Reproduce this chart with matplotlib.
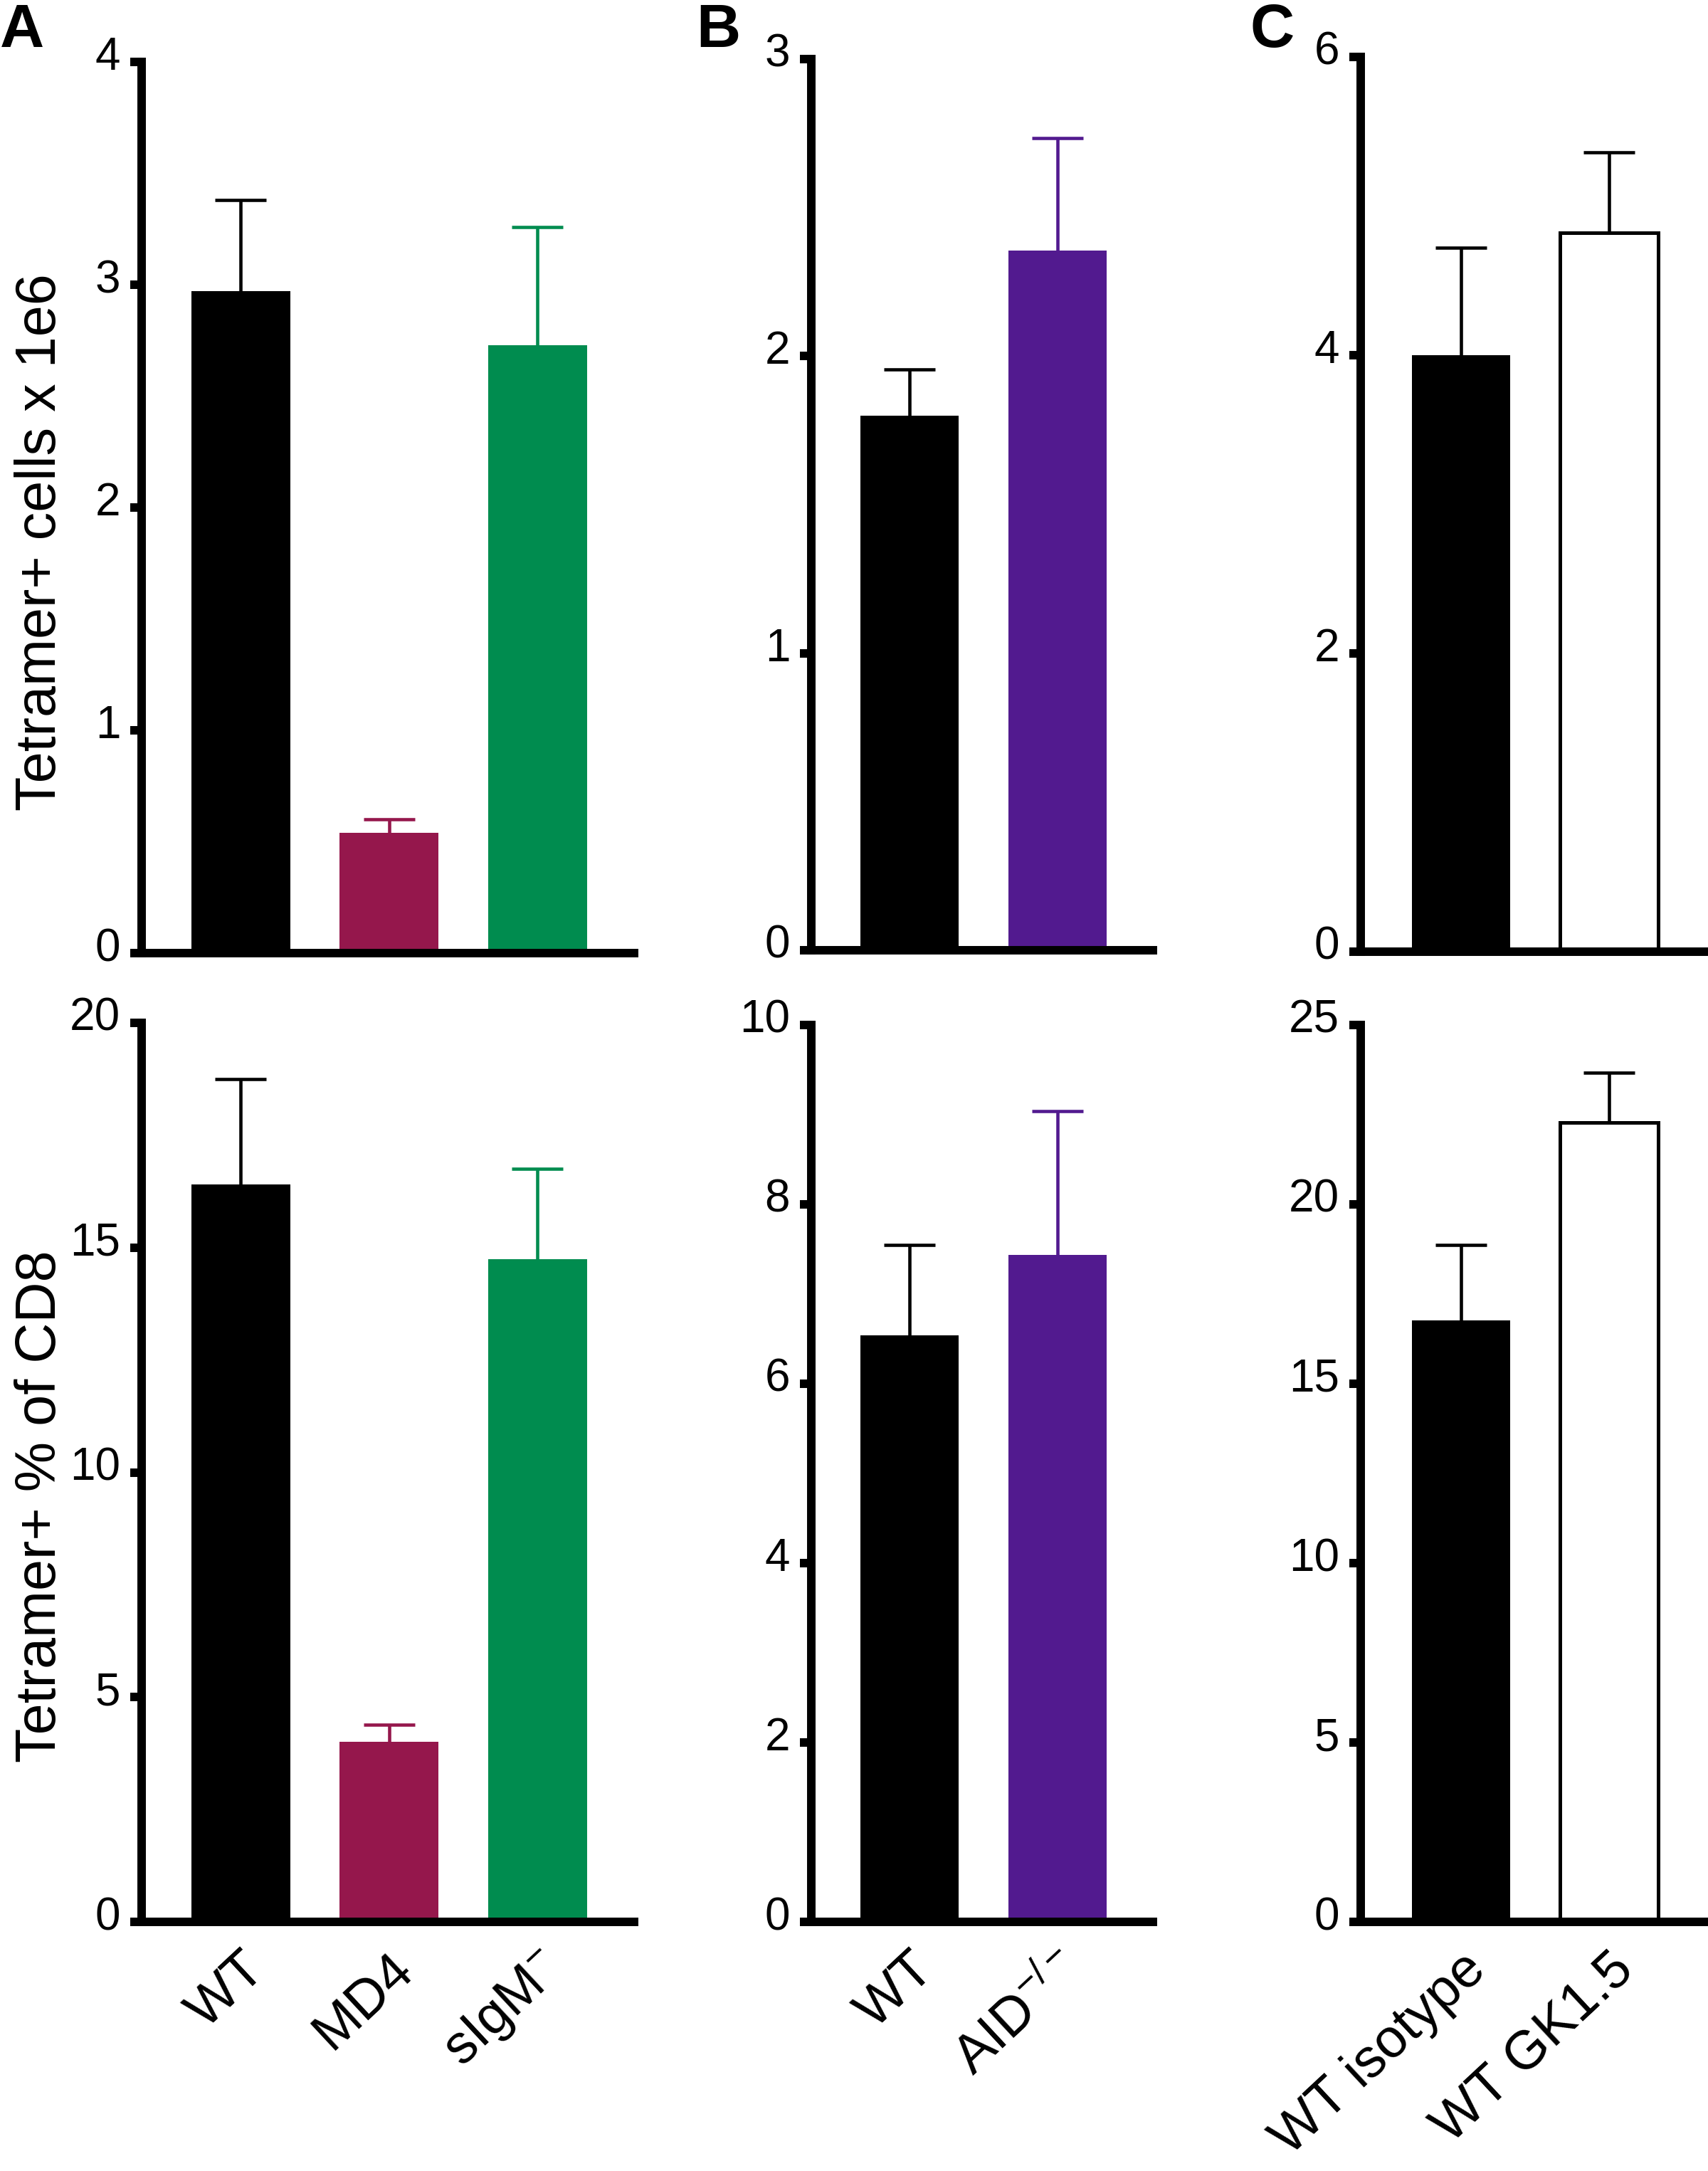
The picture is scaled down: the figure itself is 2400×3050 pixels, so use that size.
import numpy as np
import matplotlib
matplotlib.use("Agg")
import matplotlib.pyplot as plt
from matplotlib.transforms import ScaledTranslation

plt.rcParams['font.family'] = ['Liberation Sans', 'DejaVu Sans']
plt.rcParams['mathtext.fontset'] = 'custom'
plt.rcParams['mathtext.rm'] = 'Liberation Sans'
plt.rcParams['mathtext.it'] = 'Liberation Sans'

# ---- data ----
a_groups = ['WT', 'MD4', r'sIgM$^{-}$']
a_colors = ['#000000', '#95174C', '#008C4F']
a_count = [2.97, 0.54, 2.73]
a_count_err = [0.41, 0.06, 0.53]
a_pct = [16.4, 4.0, 14.75]
a_pct_err = [2.35, 0.38, 2.0]

b_groups = ['WT', r'AID$^{-/-}$']
b_colors = ['#000000', '#521A8F']
b_count = [1.80, 2.355]
b_count_err = [0.155, 0.38]
b_pct = [6.54, 7.44]
b_pct_err = [1.01, 1.6]

c_groups = ['WT isotype', 'WT GK1.5']
c_colors = ['#000000', '#FFFFFF']
c_count = [4.0, 4.82]
c_count_err = [0.72, 0.54]
c_pct = [16.77, 22.28]
c_pct_err = [2.1, 1.4]

W, H = 2400, 3050
fig = plt.figure(figsize=(W / 100, H / 100), dpi=100)

SPINE = 8.6
up = ScaledTranslation(0, 9 / 72, fig.dpi_scale_trans)


def px_axes(left, right, top, bottom):
    return fig.add_axes([left / W, 1 - bottom / H, (right - left) / W, (bottom - top) / H])


def bar_panel(ax, vals, errs, colors, ymax, yticks, xlim, labels=None):
    x = np.arange(len(vals))
    for xi, v, e, c in zip(x, vals, errs, colors):
        edge = '#000000' if c == '#FFFFFF' else c
        ecol = '#000000' if c == '#FFFFFF' else c
        eb = ax.errorbar(xi, v, yerr=[[0], [e]], fmt='none', ecolor=ecol,
                         elinewidth=3.3, capsize=26, capthick=3.3, zorder=1)
        # only the upper cap is shown
        for cap in eb[1]:
            if abs(cap.get_ydata()[0] - v) < 1e-9:
                cap.set_visible(False)
        ax.bar(xi, v, width=0.667, color=c, edgecolor=edge,
               linewidth=3.6 if c == '#FFFFFF' else 0, zorder=2)
    ax.set_ylim(0, ymax)
    ax.set_xlim(*xlim)
    for s in ['top', 'right']:
        ax.spines[s].set_visible(False)
    for s in ['left', 'bottom']:
        ax.spines[s].set_linewidth(SPINE)
        ax.spines[s].set_capstyle('projecting')
        ax.spines[s].set_zorder(5)
    ax.set_yticks(yticks)
    ax.set_yticklabels([str(t) for t in yticks])
    ax.tick_params(axis='y', direction='out', length=11.5, width=SPINE,
                   labelsize=46, pad=10)
    for lbl in ax.get_yticklabels():
        lbl.set_transform(lbl.get_transform() + up)
    if labels is None:
        ax.set_xticks([])
    else:
        ax.set_xticks(x)
        ax.set_xticklabels(labels, rotation=43, ha='right', va='top',
                           rotation_mode='anchor', fontsize=55)
        ax.tick_params(axis='x', length=0, pad=22)
    ax.patch.set_visible(False)


# panel A
axA1 = px_axes(199, 891, 87, 1339)
bar_panel(axA1, a_count, a_count_err, a_colors, 4, [0, 1, 2, 3, 4], (-0.667, 2.652))
axA2 = px_axes(199, 891, 1437, 2700)
bar_panel(axA2, a_pct, a_pct_err, a_colors, 20, [0, 5, 10, 15, 20], (-0.667, 2.652), a_groups)

# panel B
axB1 = px_axes(1140, 1620, 83, 1335)
bar_panel(axB1, b_count, b_count_err, b_colors, 3, [0, 1, 2, 3], (-0.663, 1.644))
axB2 = px_axes(1140, 1620, 1440, 2700)
bar_panel(axB2, b_pct, b_pct_err, b_colors, 10, [0, 2, 4, 6, 8, 10], (-0.663, 1.644), b_groups)

# panel C
axC1 = px_axes(1912, 2396, 80, 1337)
bar_panel(axC1, c_count, c_count_err, c_colors, 6, [0, 2, 4, 6], (-0.678, 1.649))
axC2 = px_axes(1912, 2396, 1440, 2700)
bar_panel(axC2, c_pct, c_pct_err, c_colors, 25, [0, 5, 10, 15, 20, 25], (-0.678, 1.649), c_groups)

fig.text(58 / W, 1 - 762 / H, 'Tetramer+ cells x 1e6', rotation=90,
         ha='center', va='center', fontsize=57)
fig.text(58 / W, 1 - 2116 / H, 'Tetramer+ % of CD8', rotation=90,
         ha='center', va='center', fontsize=57)

fig.text(0 / W, 1 - 66 / H, 'A', fontsize=62, fontweight='bold', ha='left', va='baseline')
fig.text(978 / W, 1 - 66 / H, 'B', fontsize=62, fontweight='bold', ha='left', va='baseline')
fig.text(1756 / W, 1 - 66 / H, 'C', fontsize=62, fontweight='bold', ha='left', va='baseline')

fig.savefig('out.png', dpi=100)
